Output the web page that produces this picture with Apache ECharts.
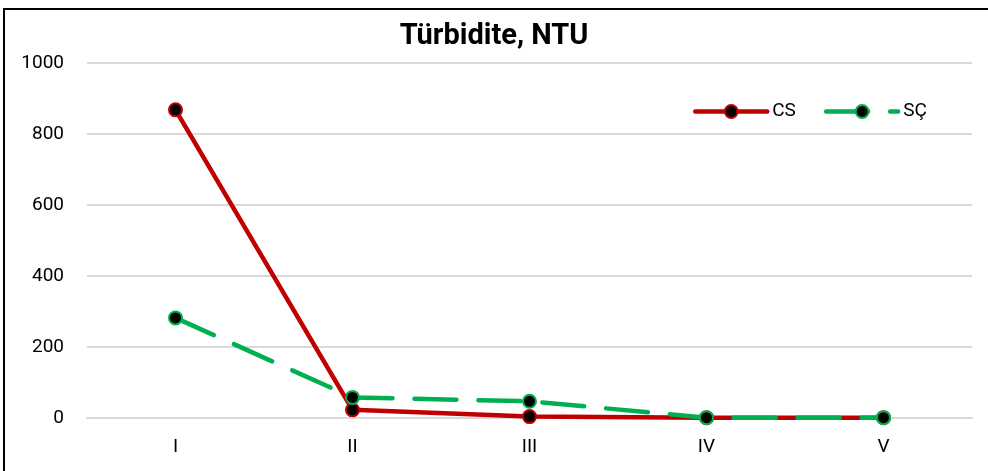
<!DOCTYPE html>
<html>
<head>
<meta charset="utf-8">
<script src="https://cdn.jsdelivr.net/npm/echarts@6/dist/echarts.min.js"></script>
<style>
  html, body { margin: 0; padding: 0; background: #fff; }
  #chart { width: 988px; height: 471px; }
</style>
</head>
<body>
<div id="chart"></div>
<script>
// Turbidity (NTU) by sampling stage
const categories = ['I', 'II', 'III', 'IV', 'V'];
const csValues = [868, 23, 4, 1, 1];
const scValues = [282, 58, 47, 1, 1];
const yTicks = { min: 0, max: 1000, interval: 200 };

const FONT = 'Roboto, "Liberation Sans Narrow", "Noto Sans", sans-serif';

const chart = echarts.init(document.getElementById('chart'), null, { renderer: 'canvas' });

chart.setOption({
  backgroundColor: '#ffffff',
  animation: false,
  graphic: [{
    type: 'rect',
    shape: { x: 4, y: 9, width: 1100, height: 600 },
    style: { fill: 'none', stroke: '#000', lineWidth: 2 },
    silent: true,
    z: -1
  }],
  title: {
    text: 'Türbidite, NTU',
    left: 'center',
    top: 17,
    textStyle: { fontFamily: FONT, fontWeight: 'bold', fontSize: 29, color: '#000' }
  },
  legend: {
    left: 688,
    top: 97,
    itemWidth: 72,
    itemHeight: 16,
    itemGap: 28,
    lineStyle: { width: 4.5 },
    textStyle: { fontFamily: FONT, fontSize: 19, color: '#000' },
    data: ['CS', 'SÇ']
  },
  grid: { left: 87, right: 16, top: 63, bottom: 53, containLabel: false },
  xAxis: {
    type: 'category',
    data: categories,
    boundaryGap: true,
    axisLine: { show: true, lineStyle: { color: '#d9d9d9', width: 2 } },
    axisTick: { show: false },
    axisLabel: { fontFamily: FONT, fontSize: 19, color: '#000', margin: 20 }
  },
  yAxis: {
    type: 'value',
    min: yTicks.min,
    max: yTicks.max,
    interval: yTicks.interval,
    axisLine: { show: false },
    axisTick: { show: false },
    splitLine: { lineStyle: { color: '#d9d9d9', width: 2 } },
    axisLabel: {
      fontFamily: FONT, fontSize: 19, color: '#000', margin: 23,
      formatter: v => String(v)
    }
  },
  series: [
    {
      name: 'CS',
      type: 'line',
      data: csValues,
      symbol: 'circle',
      symbolSize: 13,
      lineStyle: { color: '#c00000', width: 4.5, cap: 'round' },
      itemStyle: { color: '#000', borderColor: '#c00000', borderWidth: 2 },
      z: 2
    },
    {
      name: 'SÇ',
      type: 'line',
      data: scValues,
      symbol: 'circle',
      symbolSize: 13,
      lineStyle: { color: '#00b050', width: 4.5, type: [42, 22], cap: 'round' },
      itemStyle: { color: '#000', borderColor: '#00b050', borderWidth: 2 },
      z: 3
    }
  ]
});
</script>
</body>
</html>
